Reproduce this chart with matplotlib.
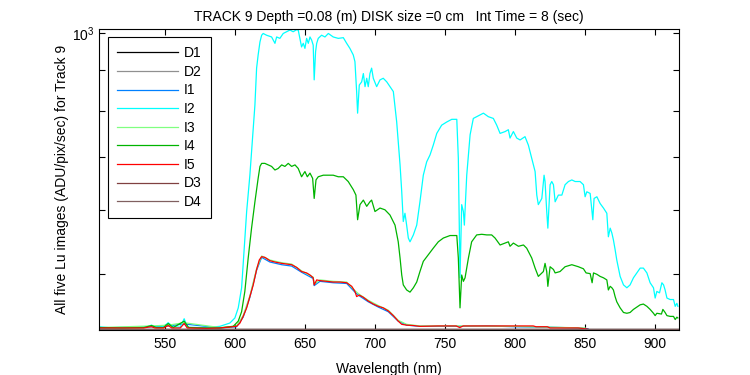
import matplotlib
matplotlib.use("Agg")
import matplotlib.pyplot as plt
from matplotlib.ticker import FixedLocator, NullFormatter, LogFormatterSciNotation

plt.rcParams["font.family"] = ["Liberation Sans", "DejaVu Sans"]

# ---------------------------------------------------------------------------
# Data (wavelength in nm, signal in ADU/pix/sec)
# ---------------------------------------------------------------------------

i2_wl = [503, 510, 520, 530, 537, 540.5, 544, 549, 552.4, 556, 561, 563.8, 566, 575, 583,
         589.3, 596.4, 600, 602.4, 604.8, 605.9, 607.1, 608.4, 610.7, 613.1, 614.3, 615.5,
         616.6, 617.9, 619.1, 620.2, 622.6, 626.2, 628.6, 629.8, 632.1, 634.5, 636.9, 639.3,
         641.6, 644.1, 645.2, 646.4, 647.6, 648.8, 650, 651.2, 652.4, 653.6, 654.8, 655.9,
         656.6, 657.6, 658.4, 659.5, 661.9, 664.3, 666.7, 670.2, 673.8, 677.4, 679.8, 682.1,
         684.5, 685.7, 686.9, 687.6, 688.8, 690.5, 691.7, 692.9, 694.1, 695.2, 696.4, 697.6,
         698.8, 701.2, 703.6, 705.9, 708.4, 710.7, 713.1, 715.5, 716.6, 717.9, 719.1, 720.2,
         721.4, 722.6, 723.8, 725, 727.4, 729.8, 732.1, 734.5, 736.9, 739.3, 741.6, 744.1,
         747.6, 751.2, 754.8, 758.4, 759.5, 760.2, 760.7, 761.9, 763.1, 763.8, 765.5, 767.9,
         770.2, 772.6, 775, 777.4, 780.9, 784.5, 786.9, 789.3, 792.9, 795.2, 796.4, 798.8,
         801.2, 803.6, 807.1, 809.5, 811.9, 814.3, 815.5, 816.6, 819.1, 820.7, 821.4, 822.6,
         823.4, 825, 826.2, 827.4, 828.6, 830.9, 833.4, 835.7, 838.1, 840.5, 842.9, 846.4,
         848.8, 850, 851.2, 853.6, 854.8, 855.5, 856.4, 858.4, 860.7, 863.1, 865.5, 866.6,
         867.9, 869.1, 870.2, 871.4, 872.6, 873.8, 875, 877.4, 879.8, 882.1, 884.5, 886.9,
         889.3, 891.6, 894.1, 896.4, 898.8, 900, 901.2, 903.1, 904.8, 906, 907.1, 908.4,
         910.7, 913.1, 914.3, 915.5, 916.2]
i2_val = [429, 428, 428, 428.5, 429, 431, 428.5, 429, 434, 429, 428.5, 439, 428.5, 428, 428.5,
          429.5, 433.6, 440, 453, 480, 513, 554, 598, 664, 760, 813, 904,
          939, 975, 994, 999, 994, 989, 971, 989, 985, 999, 1004, 1009,
          1004, 1010, 1009, 985, 961, 971, 957, 985, 971, 989, 980, 966,
          874, 948, 971, 985, 994, 989, 999, 989, 985, 987, 971, 957,
          939, 921, 845, 794, 861, 869, 890, 857, 878, 857, 890, 904,
          878, 857, 874, 878, 869, 857, 845, 774, 731, 684, 633, 581,
          595, 575, 554, 548, 559, 575, 615, 664, 690, 704, 724, 749,
          767, 774, 780, 780, 697, 575, 494, 610, 598, 575, 664, 746,
          782, 786, 790, 794, 786, 782, 767, 749, 753, 757, 739, 753,
          739, 735, 742, 724, 697, 671, 627, 610, 621, 664, 652, 598,
          570, 646, 652, 646, 615, 627, 627, 646, 652, 655, 652, 652,
          646, 624, 633, 630, 601, 584, 621, 624, 612, 604, 595, 556,
          570, 562, 551, 536, 520, 508, 496, 484, 480, 484, 494, 501,
          508, 508, 501, 487, 480, 466, 475, 473, 487, 484, 477, 466,
          464, 464, 455, 459, 455]

i4_wl = [503, 520, 535, 540.5, 544, 549, 552.4, 556, 563.8, 567, 580, 589.3, 598.8, 602.4,
         604.8, 607.1, 609.5, 611.9, 614.3, 616.6, 617.9, 619.1, 621.4, 623.8, 626.2, 628.6,
         630.9, 633.4, 635.7, 638.1, 640.5, 642.9, 645.2, 647.6, 650, 651.7, 653.6, 655.5,
         656.6, 657.9, 659.5, 663.1, 666.7, 670.2, 673.8, 677.4, 680.9, 684.5, 686.4, 687.6,
         689.3, 691.7, 694.1, 696.4, 697.6, 700, 703.6, 707.1, 710.7, 714.3, 716.6, 717.9,
         719.1, 720.2, 722.6, 725, 727.4, 729.8, 732.1, 734.5, 738.1, 741.6, 745.2, 748.8,
         753.6, 758.4, 759.5, 760.7, 761.9, 763.1, 764.3, 766.7, 769, 772.6, 776.2, 779.8,
         783.3, 785.7, 789.3, 792.9, 795.2, 796.4, 798.8, 802.4, 806, 808.3, 811.9, 814.3,
         816.6, 820.2, 821.4, 822.6, 823.4, 825, 827.4, 828.6, 832.1, 835.7, 840.5, 845.2,
         848.8, 850.7, 853.6, 855, 856, 858.4, 860.7, 863.1, 865.5, 866.6, 867.9, 869.1,
         870.2, 871.4, 872.6, 873.8, 875, 877.4, 879.8, 882.1, 884.5, 886.9, 889.3, 891.6,
         894.1, 896.4, 898.8, 900, 901.2, 904.5, 905.5, 907.1, 908.4, 910.7, 913.1, 914.3,
         915.5, 916.2]
i4_val = [428, 427.5, 428, 430.5, 428, 428, 433, 428, 436, 428, 427.5, 427.5, 429.5, 436,
          448, 475, 523, 570, 615, 658, 681, 687, 687, 684, 681, 674,
          677, 684, 681, 687, 681, 684, 677, 661, 671, 661, 668, 658,
          621, 655, 661, 664, 664, 664, 661, 661, 652, 637, 627, 584,
          610, 618, 607, 615, 618, 598, 604, 601, 592, 575, 548, 523,
          498, 484, 477, 474, 480, 488, 503, 518, 528, 538, 548, 554,
          558, 558, 523, 453, 498, 489, 494, 523, 548, 559, 560, 559,
          559, 554, 543, 546, 548, 541, 546, 541, 543, 538, 523, 508,
          496, 503, 515, 503, 482, 510, 506, 501, 503, 510, 513, 510,
          507, 501, 500, 487, 501, 499, 496, 494, 491, 477, 482, 480,
          477, 468, 461, 457, 453, 447, 446, 447, 451, 454, 457, 458,
          455, 451, 446, 443, 446, 445, 451, 447, 443, 442, 442, 438,
          441, 440]

i5_wl = [503, 520, 535, 538, 540.5, 543, 549, 552.4, 555, 561, 563.8, 566, 580, 589.3,
         601.2, 603.6, 605.9, 608.4, 610.7, 613.1, 615.5, 617.4, 619.1, 621.4, 625, 628.6,
         633.4, 636.9, 640.5, 644.1, 647.6, 651.2, 653.6, 655.9, 656.6, 658.4, 660.7, 665.5,
         670.2, 675, 679.8, 683.4, 685.7, 686.9, 688.8, 691.7, 695.2, 698.8, 702.4, 705.9,
         709.5, 713.1, 716.6, 719.1, 722.6, 727.4, 732.1, 745, 758, 760.5, 763, 790, 813,
         815, 823, 825, 845, 850, 852]
i5_val = [427.5, 427.5, 427.5, 428.5, 429, 427.5, 427.5, 430.5, 427.5, 427.5, 433, 427.5, 427, 427.5,
          429.5, 433.6, 442, 453, 468, 484, 506, 520, 525, 524, 519, 517,
          515, 514, 513, 509, 503, 501, 498, 494, 484, 491, 490, 489,
          488, 488, 487, 482, 475, 468, 470, 467, 462, 458, 455, 453,
          449, 443, 436, 432, 431, 430.5, 429.5, 430, 430, 428, 430, 430, 430,
          429, 429, 427.5, 427.5, 426.5, 426]

i1_wl = [503, 540.5, 552.4, 563.8, 589.3, 601.2, 605.9, 610.7, 615.5, 619.1, 625, 633.4,
         640.5, 647.6, 655.9, 656.6, 660.7, 670.2, 679.8, 685.7, 688.8, 695.2, 702.4, 709.5,
         716.6, 722.6, 732.1, 760, 780, 800, 823, 845, 852]
i1_val = [427.5, 429, 430, 432.5, 427.5, 429, 441, 467, 505, 524, 517, 513,
          511, 502, 493, 483, 489, 487, 486, 474, 469, 461, 454, 448,
          436, 431, 429.5, 429.5, 430, 429, 428.5, 427.5, 426.5]

i3_wl = [503, 540.5, 552.4, 563.8, 589.3, 601.2, 605.9, 610.7, 615.5, 619.1, 625, 633.4,
         640.5, 647.6, 655.9, 656.6, 660.7, 670.2, 679.8, 685.7, 688.8, 695.2, 702.4, 709.5,
         716.6, 722.6, 732.1, 760, 800, 850]
i3_val = [428, 430, 431, 434, 428, 430, 443, 469, 507, 526, 520, 516,
          514, 504, 495, 485, 491, 489, 488, 476, 471, 463, 456, 450,
          437, 432, 430, 430, 429.5, 427.5]

# dark frames sit on the floor of the axis
dark_wl = [503, 917]
d1_val = [426, 426]
d2_val = [426, 426]
d3_val = [426, 426]
d4_val = [426, 426]

SERIES = [
    ("D1", dark_wl, d1_val, "#000000"),
    ("D2", dark_wl, d2_val, "#909090"),
    ("I1", i1_wl, i1_val, "#0080ff"),
    ("I2", i2_wl, i2_val, "#00ffff"),
    ("I3", i3_wl, i3_val, "#80ff80"),
    ("I4", i4_wl, i4_val, "#00b400"),
    ("I5", i5_wl, i5_val, "#ff0000"),
    ("D3", dark_wl, d3_val, "#804040"),
    ("D4", dark_wl, d4_val, "#806060"),
]

X_TICKS = [550, 600, 650, 700, 750, 800, 850, 900]

fig = plt.figure(figsize=(7.5, 3.75), dpi=100)
ax = fig.add_axes([0.132, 0.12, 0.7733, 0.8027])

for name, wl, val, color in SERIES:
    ax.plot(wl, val, color=color, lw=0.9, label=name)

ax.set_yscale("log")
ax.set_xlim(503, 917)
ax.set_ylim(425, 1012)
ax.set_xticks(X_TICKS)
ax.yaxis.set_major_locator(FixedLocator([1000]))
ax.yaxis.set_major_formatter(LogFormatterSciNotation())
ax.yaxis.set_minor_locator(FixedLocator([500, 600, 700, 800, 900]))
ax.yaxis.set_minor_formatter(NullFormatter())
ax.tick_params(which="both", direction="in", top=True, right=True, length=4,
               width=0.8, labelsize=10, colors="black")
ax.tick_params(axis="x", pad=5)
for spine in ax.spines.values():
    spine.set_linewidth(0.8)

ax.set_xlabel("Wavelength (nm)", fontsize=10, labelpad=8)
ax.set_ylabel("All five Lu images (ADU/pix/sec) for Track 9", fontsize=10, labelpad=2)
ax.set_title("TRACK 9 Depth =0.08 (m) DISK size =0 cm   Int Time = 8 (sec)",
             fontsize=10, pad=6)

leg = ax.legend(loc="upper left", bbox_to_anchor=(0.0155, 0.9724), borderaxespad=0,
                fontsize=10, handlelength=4.4, handletextpad=0.4, labelspacing=0.33,
                borderpad=0.65, fancybox=False, framealpha=1, edgecolor="black")
leg.get_frame().set_linewidth(0.8)

fig.savefig("out.png", dpi=100)
